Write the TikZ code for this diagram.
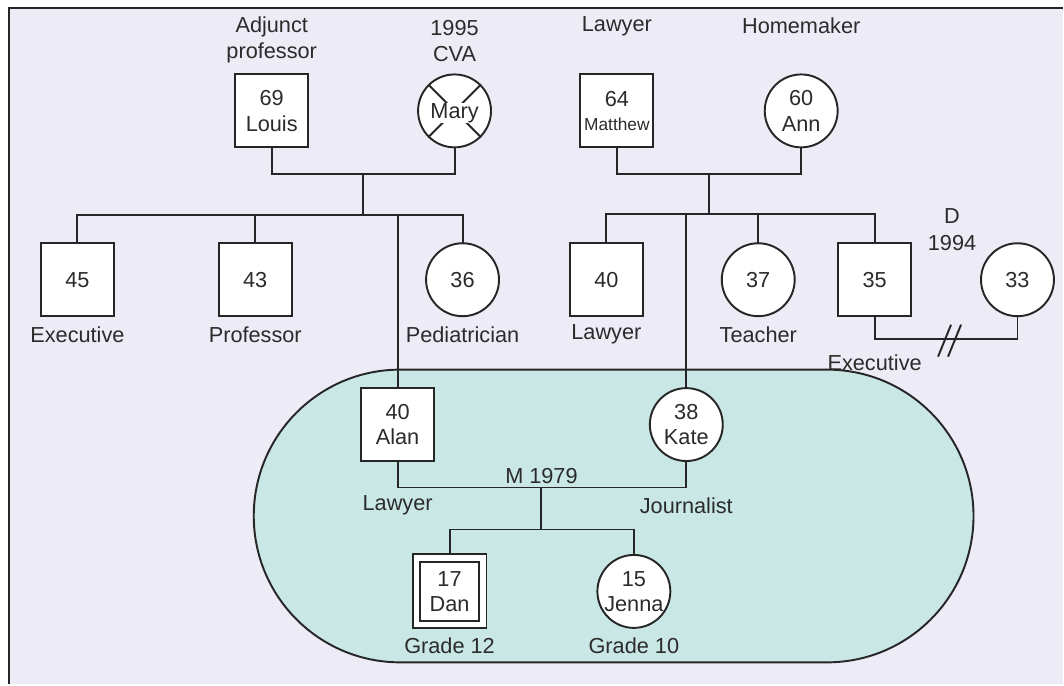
\documentclass[tikz,border=0pt]{standalone}
\usepackage{fontspec}
\setmainfont{Liberation Sans}
\definecolor{inkc}{HTML}{262626}
\definecolor{txt}{HTML}{2B2B2B}
\definecolor{paper}{HTML}{EDEBF5}
\definecolor{household}{HTML}{C9E7E4}
\begin{document}
\begin{tikzpicture}[x=0.75pt,y=-0.75pt,
  ink/.style={draw=inkc, line width=1.45pt},
  person/.style={ink, fill=white, text=txt, align=center,
    font=\fontsize{16.3}{19}\selectfont, inner sep=0pt},
  male/.style={person, rectangle, minimum size=54.75pt},
  female/.style={person, circle, minimum size=54.75pt},
  lbl/.style={text=txt, align=center, font=\fontsize{16.3}{20}\selectfont, inner sep=0pt},
  link/.style={ink, line cap=rect}]

% page and frame
\fill[white] (0,0) rectangle (1064,685);
\fill[paper] (9,8) rectangle (1064,685);
\draw[draw=inkc, line width=1.6pt] (9,685) -- (9,8) -- (1064,8);
\useasboundingbox (0,0) rectangle (1064,685);

% household outline
\draw[ink, fill=household] (400.5,370) -- (828,370)
  arc[start angle=-90, end angle=90, radius=146.5] -- (400.5,663)
  arc[start angle=90, end angle=270, radius=146.5] -- cycle;

% grandparents (paternal)
\node[male] (louis) at (272,111) {69\\Louis};
\node[female] (mary) at (455,111) {};
\draw[ink] (mary.45) -- (mary.225) (mary.135) -- (mary.315);
\node[lbl, fill=white, inner sep=0.5pt] (maryname) at (455,113) {Mary};
\node[lbl] (louisjob) at (272,40) {Adjunct\\professor};
\node[lbl] (marydeath) at (455,41) {1995\\CVA};

% grandparents (maternal)
\node[male] (matthew) at (617.5,111) {64\\[-1pt]{\fontsize{13}{15}\selectfont Matthew}};
\node[female] (ann) at (802,111) {60\\Ann};
\node[lbl] (matthewjob) at (617.5,26) {Lawyer};
\node[lbl] (annjob) at (802,26) {Homemaker};

% children of Louis and Mary
\node[male] (s45) at (77.5,280) {45};
\node[male] (s43) at (255.5,280) {43};
\node[female] (s36) at (463,280) {36};
\node[male] (alan) at (398,425) {40\\Alan};
\node[lbl] (s45job) at (77.5,335) {Executive};
\node[lbl] (s43job) at (255.5,335) {Professor};
\node[lbl] (s36job) at (463,335) {Pediatrician};

% children of Matthew and Ann
\node[male] (s40) at (607,280) {40};
\node[female] (s37) at (759,280) {37};
\node[male] (s35) at (875.5,280) {35};
\node[female] (ex33) at (1018.5,280) {33};
\node[female] (kate) at (687,425) {38\\Kate};
\node[lbl] (s40job) at (607,335) {Lawyer};
\node[lbl] (s37job) at (759,335) {Teacher};
\node[lbl] (s35job) at (875.5,363) {Executive};
\node[lbl] (divorce) at (953,230) {D\\1994};

% grandchildren
\node[male, minimum size=55.5pt] (dan) at (450,592) {};
\node[male, minimum size=44pt] (danin) at (450,592) {17\\Dan};
\node[female] (jenna) at (634.5,592) {15\\Jenna};
\node[lbl] (danjob) at (450,646) {Grade 12};
\node[lbl] (jennajob) at (634.5,646) {Grade 10};

% Alan and Kate
\node[lbl] (alanjob) at (398,506) {Lawyer};
\node[lbl] (katejob) at (687,506) {Journalist};
\node[lbl] (marriage) at (542,476) {M 1979};

% junction points
\coordinate (lm) at (363.5,174);
\coordinate (lmkids) at (363.5,215);
\coordinate (ma) at (710,174);
\coordinate (makids) at (710,214);
\coordinate (ak) at (542,488);
\coordinate (akkids) at (542,530);
\coordinate (dv) at (950,339);

% Louis and Mary family
\draw[link] (louis.south) |- (lm) -| (mary.south);
\draw[link] (lm) -- (lmkids);
\draw[link] (s45.north) |- (lmkids) -| (s36.north);
\draw[link] (s43.north) -- (s43.north |- lmkids);
\draw[link] (alan.north) -- (alan.north |- lmkids);

% Matthew and Ann family
\draw[link] (matthew.south) |- (ma) -| (ann.south);
\draw[link] (ma) -- (makids);
\draw[link] (s40.north) |- (makids) -| (s35.north);
\draw[link] (s37.north) -- (s37.north |- makids);
\draw[link] (kate.north) -- (kate.north |- makids);

% divorce
\draw[link] (s35.south) |- (dv) -| (ex33.south);
\coordinate (cut1a) at (939,357);
\coordinate (cut1b) at (952,325);
\coordinate (cut2a) at (949,357);
\coordinate (cut2b) at (962,325);
\draw[ink] (cut1a) -- (cut1b) (cut2a) -- (cut2b);

% Alan and Kate family
\draw[link] (alan.south) |- (ak) -| (kate.south);
\draw[link] (ak) -- (akkids);
\draw[link] (dan.north) |- (akkids) -| (jenna.north);
\end{tikzpicture}
\end{document}
